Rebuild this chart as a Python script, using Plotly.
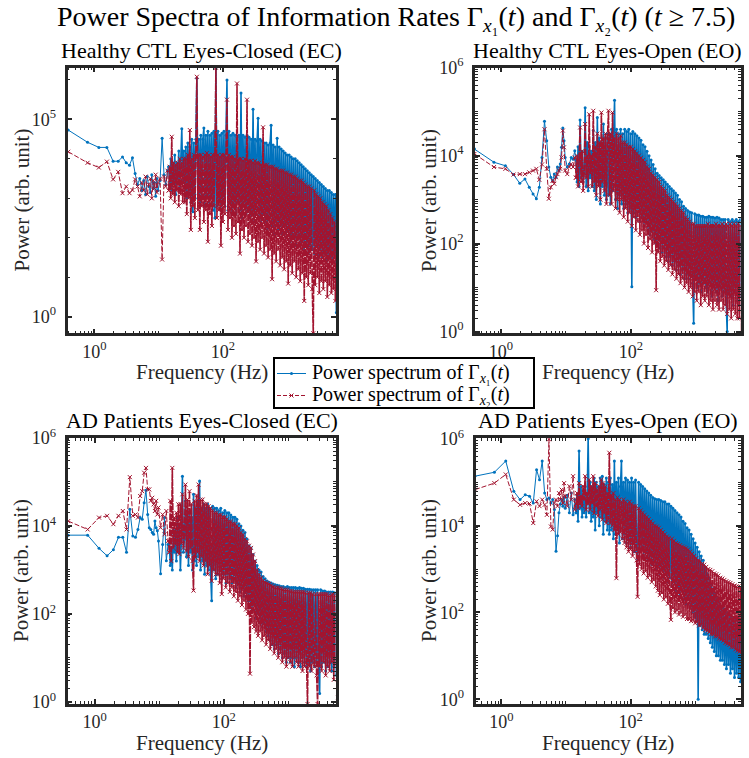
import plotly.graph_objects as go

# ---------------- frequency bins (Hz) ----------------
FREQ_LOW = [
    0.39, 0.78, 1.17, 1.56, 1.95, 2.34, 2.73, 3.12, 3.51, 3.90,
    4.29, 4.68, 5.07, 5.46, 5.85, 6.24, 6.63, 7.02, 7.41, 7.80,
    8.19, 8.58, 8.97, 9.36, 9.75, 10.5, 11.3, 12.1, 12.9, 13.7]
FREQ_HIGH = [
    14.33, 14.86, 15.40, 15.96, 16.55, 17.15, 17.78, 18.43, 19.11, 19.81,
    20.54, 21.29, 22.07, 22.88, 23.71, 24.58, 25.48, 26.42, 27.38, 28.39,
    29.43, 30.51, 31.62, 32.78, 33.98, 35.23, 36.52, 37.86, 39.24, 40.68,
    42.17, 43.71, 45.32, 46.98, 48.70, 50.48, 52.33, 54.25, 56.23, 58.29,
    60.43, 62.64, 64.94, 67.32, 69.78, 72.34, 74.99, 77.74, 80.58, 83.54,
    86.60, 89.77, 93.06, 96.47,
    100.0, 103.7, 107.5, 111.4, 115.5, 119.7, 124.1, 128.6, 133.4, 138.2,
    143.3, 148.6, 154.0, 159.6, 165.5, 171.5, 177.8, 184.3, 191.1, 198.1,
    205.4, 212.9, 220.7, 228.8, 237.1, 245.8, 254.8, 264.2, 273.8, 283.9,
    294.3, 305.1, 316.2, 327.8, 339.8, 352.3, 365.2, 378.6, 392.4, 406.8,
    421.7, 437.1, 453.2, 469.8, 487.0, 504.8, 523.3, 542.5, 562.3, 582.9,
    604.3, 626.4, 649.4, 673.2, 697.8, 723.4, 749.9, 777.4, 805.8, 835.4,
    866.0, 897.7, 930.6, 964.7,
    1000, 1037, 1075, 1114, 1155, 1197, 1241, 1286, 1334, 1382,
    1433, 1486, 1540, 1596, 1655, 1715, 1778, 1843, 1911, 1981,
    2054, 2129, 2207, 2288, 2371, 2458, 2548, 2642, 2738, 2839,
    2943, 3051, 3162, 3278, 3398, 3523, 3652, 3786, 3924, 4068,
    4217, 4371, 4532, 4698, 4870, 5048, 5233, 5425, 5623, 5829]
FREQ = FREQ_LOW + FREQ_HIGH

# ---------------- log10(power) ----------------
CTL_EC_X1 = [
    4.73, 4.42, 4.29, 4.29, 3.94, 3.94, 4.05, 3.90, 3.84, 4.03,
    3.63, 3.35, 3.50, 3.20, 3.45, 3.10, 3.55, 3.30, 3.15, 3.60,
    3.25, 3.40, 3.05, 3.50, 3.20, 3.45, 4.52, 3.60, 3.35, 3.70,
    3.8, 3.3, 4.0, 3.2, 3.9, 3.4, 4.1, 3.1, 3.9, 3.5, 4.2, 3.3, 4.0, 4.76, 3.4, 4.2,
    3.1, 4.3, 3.0, 4.4, 3.2, 4.3, 2.9, 4.5, 2.66, 4.4, 3.1, 4.5, 6.04, 3.0, 4.5, 2.9,
    4.6, 3.0, 4.5, 4.78, 2.8, 4.6, 3.1, 4.7, 2.9, 4.6, 3.0, 4.65, 2.7, 4.7, 2.5, 6.31,
    2.8, 4.7, 3.0, 4.6, 2.7, 4.65, 2.9, 4.7, 2.8, 4.6, 6.0, 2.7, 4.7, 2.9, 4.6, 2.6,
    4.65, 2.8, 4.6, 2.6, 4.55, 2.9, 4.6, 2.7, 5.67, 2.5, 4.6, 2.8, 4.55, 2.6, 4.6, 2.7,
    4.55, 2.5, 4.5, 2.7, 5.26, 2.4, 4.5, 2.6, 4.45, 5.03, 2.5, 4.5, 2.3, 4.45, 2.6, 4.4,
    2.4, 4.4, 2.2, 4.35, 2.5, 4.4, 4.85, 2.3, 4.35, 2.1, 4.3, 2.4, 4.52, 2.2, 4.3, 2.3,
    4.25, 2.1, 4.2, 2.3, 4.15, 2.0, 4.1, 2.2, 4.1, 1.9, 4.05, 2.1, 4.0, 2.0, 4.0, 1.8,
    3.95, 2.0, 3.9, 1.8, 3.85, 1.9, 3.8, 1.7, 3.75, 1.9, 3.7, 1.6, 3.65, 1.8, 3.6, 1.7,
    3.55, 1.6, 3.5, 1.8, 3.45, 1.5, 3.4, 1.7, 3.35, 1.5, 3.3, 1.6, 3.25, 1.4, 3.2, 1.6,
    3.2, 1.5, 3.15, 1.4, 3.1, 1.5, 3.1, 0.1]
CTL_EC_X2 = [
    4.18, 3.90, 3.78, 3.93, 3.48, 3.67, 3.13, 3.30, 3.13, 3.21,
    3.48, 3.30, 3.05, 3.40, 3.20, 3.55, 3.10, 3.35, 3.50, 3.00,
    3.45, 3.25, 3.60, 3.15, 3.40, 3.50, 1.45, 3.55, 3.30, 3.70,
    3.2, 3.8, 3.0, 4.56, 3.1, 3.9, 2.9, 3.85, 3.2, 3.9, 2.8, 4.0, 3.1, 3.9, 2.9, 4.0,
    2.9, 4.0, 2.6, 4.1, 3.0, 4.73, 2.2, 4.0, 2.8, 4.1, 2.5, 4.05, 6.08, 2.7, 4.1, 2.2,
    4.1, 2.8, 4.05, 2.4, 4.1, 2.7, 4.15, 1.9, 4.1, 2.6, 4.05, 2.3, 4.1, 2.8, 4.1, 6.31,
    2.5, 4.1, 2.7, 4.05, 1.8, 4.1, 2.4, 4.1, 2.6, 4.0, 5.5, 2.2, 4.1, 2.5, 4.05, 2.0,
    4.05, 2.3, 4.0, 2.1, 5.91, 2.4, 4.0, 1.6, 4.0, 2.2, 3.95, 2.0, 4.0, 2.3, 5.5, 1.9,
    3.95, 2.1, 3.95, 1.8, 3.9, 2.0, 3.95, 1.4, 3.9, 1.9, 3.9, 1.7, 3.85, 2.0, 4.8, 1.6,
    3.85, 1.8, 3.85, 1.5, 3.8, 1.7, 3.8, 0.95, 3.8, 1.6, 3.75, 1.4, 3.75, 1.7, 3.7, 1.3,
    3.7, 1.5, 3.7, 1.2, 3.65, 1.4, 3.65, 0.84, 3.6, 1.3, 3.6, 1.1, 3.55, 1.4, 3.55, 1.0,
    3.5, 1.2, 3.45, 0.9, 3.45, 1.1, 3.4, 0.4, 3.35, 1.0, 3.3, 0.8, 3.3, 1.1, 3.25, 0.7,
    -0.42, 3.2, 0.8, 3.1, 1.0, 3.05, 0.6, 3.0, 0.9, 2.9, 0.7, 2.85, 0.9, 2.8, 0.5, 2.7,
    0.8, 2.6, 0.6, 2.5, 0.7, 2.4, 0.4, 2.3]

CTL_EO_X1 = [
    4.15, 3.85, 3.77, 3.57, 3.37, 3.47, 3.28, 3.13, 3.02, 3.28,
    3.96, 4.78, 4.34, 3.74, 3.51, 3.43, 3.58, 3.51, 3.74, 3.66,
    3.81, 4.19, 4.63, 4.34, 3.96, 3.74, 3.81, 3.96, 3.92, 4.11,
    3.9, 3.4, 4.2, 3.3, 4.81, 3.5, 4.1, 3.4, 3.6, 5.09, 3.3, 4.3, 3.2, 4.2, 3.5, 4.1,
    3.3, 4.57, 3.2, 4.3, 3.0, 4.87, 3.4, 4.4, 2.9, 4.3, 3.3, 4.72, 3.1, 4.4, 3.0, 4.5,
    3.1, 4.5, 2.9, 4.6, 3.2, 4.4, 5.26, 3.0, 4.6, 2.8, 4.5, 3.1, 4.6, 2.9, 4.5, 2.8,
    4.6, 2.9, 4.55, 2.7, 4.6, 2.8, 4.5, 1.02, 4.55, 2.7, 4.5, 2.6, 4.45, 2.8, 4.4, 2.5,
    4.35, 2.6, 4.25, 2.4, 4.2, 2.5, 4.1, 2.3, 4.0, 2.2, 3.9, 2.3, 3.8, 2.1, 3.7, 2.0,
    3.6, 2.1, 3.55, 1.9, 3.5, 1.8, 3.45, 1.9, 3.4, 1.7, 3.35, 1.6, 3.3, 1.7, 3.25, 1.5,
    3.2, 1.6, 3.15, 1.4, 3.1, 1.5, 3.0, 1.3, 2.95, 1.4, 2.85, 1.2, 2.8, 1.3, 2.75, 1.2,
    2.72, 1.3, 2.7, 1.1, 0.19, 2.68, 1.2, 2.65, 1.0, 2.65, 1.1, 2.62, 0.9, 2.62, 1.1, 2.6,
    1.0, 2.6, 0.9, 2.62, 1.1, 2.6, 0.8, 2.6, 1.0, 2.58, 0.9, 2.6, 0.7, 2.58, 1.0, 2.55,
    0.8, 2.55, 0.9, 2.55, 0.7, 0.0, 2.55, 0.9, 2.5, 0.8, 2.55, 0.6, 2.5, 0.9, 2.55, 0.7,
    2.5, 0.6, 2.55, 0.8, 2.5, 0.5, 2.5, 0.7]
CTL_EO_X2 = [
    4.04, 3.74, 3.70, 3.57, 3.58, 3.58, 3.62, 3.66, 3.70, 3.45,
    3.80, 4.60, 3.70, 3.02, 3.28, 3.43, 3.36, 3.51, 3.58, 3.66,
    3.70, 3.96, 4.57, 4.19, 3.66, 3.58, 3.74, 3.81, 3.74, 3.96,
    3.5, 4.0, 3.3, 3.9, 4.64, 3.4, 4.1, 3.2, 3.6, 4.72, 3.5, 4.0, 3.3, 4.94, 3.6, 4.0,
    3.3, 5.02, 3.4, 4.2, 3.1, 4.5, 3.3, 4.3, 3.0, 4.98, 3.4, 4.4, 3.2, 4.5, 2.9, 4.4,
    5.02, 3.1, 4.5, 2.9, 4.98, 3.2, 4.4, 2.8, 4.5, 3.0, 4.4, 2.7, 4.45, 3.0, 4.3, 2.6,
    4.3, 2.8, 4.25, 2.5, 4.2, 2.7, 4.2, 2.4, 4.15, 2.6, 4.1, 2.3, 4.05, 2.5, 4.0, 2.2,
    3.95, 2.3, 3.9, 2.0, 3.85, 2.2, 3.75, 1.9, 3.7, 2.1, 3.6, 1.8, 3.55, 2.0, 3.5, 0.94,
    3.45, 1.8, 3.4, 1.6, 3.3, 1.7, 3.25, 1.5, 3.2, 1.6, 3.1, 1.4, 3.05, 1.5, 3.0, 1.3,
    2.95, 1.4, 2.9, 1.2, 2.85, 1.3, 2.8, 1.1, 2.75, 1.2, 2.7, 1.0, 2.6, 1.1, 2.55, 0.9,
    2.5, 1.0, 2.45, 0.8, 2.45, 0.9, 2.4, 0.7, 2.4, 0.9, 2.4, 0.6, 2.4, 0.8, 2.4, 0.7,
    2.4, 0.8, 2.45, 0.6, 2.4, 0.7, 2.4, 0.5, 2.4, 0.7, 2.45, 0.6, 2.4, 0.5, 2.4, 0.7,
    2.45, 0.5, 2.4, 0.6, 2.45, 0.4, 2.4, 0.5, 2.45, 0.3, 2.4, 0.5, 2.45, 0.4, 2.4, 0.3,
    2.45, 0.3, 2.4, -0.05, 2.45, 0.2, 2.4, 0.3]

AD_EC_X1 = [
    3.79, 3.79, 3.49, 3.32, 3.46, 3.74, 3.74, 3.40, 4.38, 3.77,
    3.74, 3.92, 4.19, 4.15, 4.53, 4.81, 4.26, 3.96, 3.92, 3.85,
    3.81, 4.11, 3.96, 3.89, 3.66, 2.91, 3.58, 4.19, 3.21, 3.58,
    3.6, 3.1, 3.5, 3.0, 3.9, 3.4, 3.9, 3.2, 4.2, 3.4, 4.0, 3.0, 3.7, 5.13, 3.4, 3.7,
    4.57, 3.3, 4.3, 3.1, 4.34, 3.4, 4.2, 3.0, 4.72, 3.2, 4.4, 3.1, 4.57, 3.3, 5.02, 3.0,
    4.4, 3.2, 4.5, 2.9, 4.4, 3.1, 4.5, 3.0, 4.4, 2.9, 2.3, 4.45, 3.0, 4.4, 2.8, 4.4,
    2.9, 4.35, 3.0, 4.4, 2.8, 4.3, 2.9, 4.35, 2.7, 4.3, 2.9, 4.3, 2.8, 4.25, 2.7, 4.2,
    2.8, 4.2, 2.6, 4.15, 2.7, 4.05, 2.5, 4.0, 2.6, 3.9, 2.4, 3.85, 2.5, 3.7, 2.3, 3.55,
    2.3, 3.5, 2.1, 3.35, 2.2, 3.2, 1.9, 3.1, 2.0, 3.0, 1.8, 2.95, 1.7, 2.85, 1.8, 2.8,
    1.6, 2.75, 1.5, 2.72, 1.4, 2.7, 1.3, 2.68, 1.2, 2.66, 1.3, 2.65, 1.1, 2.64, 1.2, 2.62,
    1.0, 2.62, 1.1, 2.6, 0.9, 2.62, 1.0, 2.6, 0.9, 2.6, 1.0, 2.6, 0.8, 2.6, 1.0, 2.58,
    0.9, 2.6, 0.8, 2.58, 1.0, 2.58, 0.9, 2.56, 0.8, 2.56, 0.9, 2.56, 0.7, 2.55, 0.9, 2.55,
    0.8, 2.55, 0.9, 2.55, 0.7, 0.19, 2.55, 0.8, 2.52, 0.9, 2.52, 0.7, 2.5, 0.8, 2.5, 0.9,
    2.5, 0.7, 2.5, 0.8, 2.48, 0.6, 2.48, 0.8]
AD_EC_X2 = [
    4.11, 3.92, 4.19, 4.23, 4.04, 4.23, 4.34, 3.92, 5.11, 4.23,
    4.26, 4.19, 4.68, 4.79, 5.21, 5.32, 4.83, 4.83, 4.57, 4.64,
    4.49, 4.34, 4.57, 4.26, 4.42, 3.96, 4.26, 3.81, 4.34, 3.66,
    3.4, 4.57, 3.2, 5.32, 3.5, 4.19, 3.58, 4.3, 3.4, 4.49, 3.36, 4.5, 3.6, 4.72, 3.5, 3.81,
    4.94, 3.43, 4.6, 3.3, 4.79, 3.5, 4.5, 3.2, 2.53, 4.57, 3.28, 4.7, 3.4, 4.94, 3.2, 4.6,
    3.3, 4.6, 3.1, 4.5, 3.2, 4.5, 2.9, 4.45, 3.1, 4.4, 2.75, 4.35, 3.0, 4.3, 2.9, 4.3,
    2.9, 4.25, 2.7, 4.25, 2.45, 4.2, 2.8, 4.2, 2.6, 4.15, 2.7, 4.1, 2.5, 4.1, 2.6, 4.05,
    2.4, 4.05, 2.5, 4.0, 2.3, 3.95, 2.4, 3.85, 2.2, 3.8, 2.3, 3.7, 2.1, 3.65, 2.0, 3.55,
    0.64, 3.5, 1.8, 3.35, 1.7, 3.2, 1.6, 3.0, 1.5, 2.9, 1.6, 2.82, 1.4, 2.75, 1.5, 2.72,
    1.3, 2.7, 1.4, 2.68, 1.2, 2.65, 1.3, 2.62, 1.1, 2.6, 1.2, 2.6, 1.0, 2.58, 1.1, 2.58,
    0.9, 2.55, 1.0, 2.55, 0.8, 2.55, 1.0, 2.52, 0.9, 2.52, 0.8, 2.5, 1.0, 2.5, 0.9, 2.5,
    0.8, 2.5, 0.9, 2.5, 0.7, 2.5, 0.8, 2.48, 0.9, -0.05, 2.48, 0.8, 2.48, 0.7, 2.45, 0.9,
    0.8, 2.45, 0.6, -0.05, 2.45, 0.8, 2.45, 0.7, 2.45, 0.9, 2.45, 0.6, 2.45, 0.8, 2.42, 0.7,
    2.42, 0.9, 2.45, 0.5, 2.42, 0.85, 2.42, 0.1]

AD_EO_X1 = [
    5.14, 5.23, 5.49, 4.79, 4.60, 4.71, 4.68, 4.52, 5.29, 5.06,
    5.49, 4.75, 4.60, 4.64, 4.52, 4.60, 4.37, 3.41, 3.77, 4.30,
    4.50, 4.60, 4.45, 4.65, 4.40, 4.70, 4.30, 4.75, 4.25, 4.60,
    4.3, 4.7, 4.1, 5.72, 4.4, 4.9, 4.2, 4.8, 4.3, 4.9, 4.2, 4.6, 6.0, 4.3, 5.0, 4.1,
    4.9, 4.2, 5.1, 3.9, 5.0, 4.3, 4.9, 4.0, 5.1, 4.2, 5.14, 3.8, 4.95, 4.1, 5.1, 3.9,
    5.0, 3.8, 5.1, 3.9, 4.95, 3.7, 5.49, 3.8, 5.0, 3.9, 5.1, 3.6, 4.9, 5.49, 3.7, 5.0,
    3.8, 5.1, 3.6, 5.05, 3.7, 5.0, 3.5, 5.1, 3.6, 5.0, 3.4, 5.05, 3.5, 3.21, 5.0, 3.4,
    4.95, 3.5, 4.9, 3.3, 4.85, 3.4, 4.8, 3.2, 4.75, 3.3, 4.7, 3.1, 4.65, 3.2, 4.62, 3.0,
    4.6, 3.1, 4.6, 2.9, 4.58, 3.0, 4.55, 2.8, 4.55, 2.9, 4.5, 2.7, 4.5, 2.8, 4.45, 2.6,
    4.4, 2.7, 4.35, 2.5, 4.3, 2.6, 4.25, 2.4, 4.2, 2.5, 4.1, 2.3, 4.05, 2.2, 3.95, 2.3,
    3.9, 2.1, 3.8, 2.0, 3.7, 1.9, 3.6, 1.8, 3.5, 0.0, 3.4, 1.7, 3.3, 1.6, 3.2, 1.5,
    3.05, 1.5, 2.9, 1.4, 2.8, 1.3, 2.65, 1.2, 2.55, 1.1, 2.45, 1.0, 2.35, 1.0, 2.25, 0.9,
    2.15, 0.9, 2.1, 0.8, 2.05, 0.7, 2.0, 0.8, 1.95, 0.6, 1.9, 0.7, 1.88, 0.5, 1.85, 0.6,
    1.85, 0.5, 1.82, 0.4, 1.8, 0.5, 1.8, -0.1]
AD_EO_X2 = [
    4.83, 4.98, 5.18, 4.60, 4.48, 4.52, 4.51, 4.06, 4.56, 4.45,
    4.60, 4.48, 4.25, 5.99, 3.98, 3.91, 4.52, 4.60, 4.45, 4.75,
    4.60, 4.83, 4.52, 4.98, 4.68, 4.45, 4.91, 4.60, 5.14, 4.37,
    4.5, 4.75, 4.4, 4.98, 4.5, 4.68, 4.45, 4.91, 4.6, 5.14, 4.37, 4.75, 4.5, 5.06, 4.37, 4.91,
    4.52, 5.14, 4.29, 4.98, 4.45, 4.83, 4.22, 4.91, 4.37, 5.06, 4.14, 4.98, 4.29, 4.9, 4.06, 4.75,
    4.14, 5.68, 4.06, 4.7, 4.0, 4.75, 3.9, 4.6, 2.79, 4.65, 3.8, 4.6, 3.85, 4.55, 3.7, 4.6,
    3.6, 4.55, 3.5, 4.5, 3.4, 4.55, 3.45, 4.5, 3.3, 4.45, 3.4, 4.45, 3.2, 2.36, 4.4, 3.1,
    4.35, 3.0, 4.3, 2.9, 4.25, 2.95, 4.2, 2.8, 4.15, 2.85, 4.1, 2.7, 4.05, 2.75, 4.0, 2.6,
    3.98, 2.5, 3.95, 2.4, 3.9, 2.45, 3.85, 2.3, 3.8, 2.35, 3.75, 2.2, 3.72, 2.25, 1.83, 3.7,
    2.1, 3.65, 2.0, 3.6, 2.05, 3.58, 1.95, 3.55, 2.0, 3.52, 1.9, 3.5, 1.95, 3.48, 1.85, 3.45,
    1.85, 3.4, 1.8, 3.35, 1.82, 3.3, 1.75, 3.25, 1.78, 3.2, 1.7, 3.18, 1.72, 3.12, 1.65, 3.1,
    1.6, 3.05, 1.58, 3.0, 1.55, 2.98, 1.5, 2.95, 1.5, 2.9, 1.45, 2.88, 1.45, 2.85, 1.4, 2.8,
    1.38, 2.78, 1.35, 2.75, 1.3, 2.72, 1.28, 2.7, 1.25, 2.68, 1.2, 2.65, 1.2, 2.62, 1.15, 2.6,
    1.12, 2.6, 1.1, 2.58, 1.08, 2.56, 1.05, 2.55]

PANEL_TITLES = ["Healthy CTL Eyes-Closed (EC)", "Healthy CTL Eyes-Open (EO)",
                "AD Patients Eyes-Closed (EC)", "AD Patients Eyes-Open (EO)"]
SERIES = [(CTL_EC_X1, CTL_EC_X2), (CTL_EO_X1, CTL_EO_X2),
          (AD_EC_X1, AD_EC_X2), (AD_EO_X1, AD_EO_X2)]
for a, b in SERIES:
    assert len(a) == len(FREQ) and len(b) == len(FREQ), (len(a), len(b), len(FREQ))

LEGEND_NAMES = ["Power spectrum of \u0393<sub><i>x</i>\u2081</sub>(<i>t</i>)",
                "Power spectrum of \u0393<sub><i>x</i>\u2082</sub>(<i>t</i>)"]
MAIN_TITLE = ("Power Spectra of Information Rates \u0393<sub><i>x</i>\u2081</sub>(<i>t</i>)"
              " and \u0393<sub><i>x</i>\u2082</sub>(<i>t</i>) (<i>t</i> \u2265 7.5)")

BLUE = "#0072BD"
RED = "#A2142F"
AXC = "#262626"
FONT = "Liberation Serif"
W, H = 749, 758
NLOW = len(FREQ_LOW)

# panel boxes in pixels: (left, right, top, bottom)
BOXES = [(67.5, 336.0, 67.7, 333.3), (475.0, 740.5, 67.7, 333.3),
         (67.5, 335.5, 438.0, 704.0), (475.5, 741.0, 438.0, 704.0)]
XRANGES = [[-0.42, 3.76], [-0.40, 3.69], [-0.42, 3.73], [-0.40, 3.71]]
YRANGES = [[-0.42, 6.31], [-0.04, 6.0], [-0.05, 6.0], [-0.11, 6.02]]

fig = go.Figure()
PARTS = [(slice(0, NLOW + 1), 1.0, "5px,2px"), (slice(NLOW, None), 1.6, "7px,1px")]
for i, (s1, s2) in enumerate(SERIES):
    n = "" if i == 0 else str(i + 1)
    # sparse low-frequency part (thin lines) and dense part (slightly wider so
    # the densely packed spectrum reads as a filled band, as in the original)
    for sl, lw, rdash in PARTS:
        fig.add_trace(go.Scatter(
            x=FREQ[sl], y=[10 ** v for v in s1[sl]], mode="lines+markers",
            name=LEGEND_NAMES[0], showlegend=False,
            line=dict(color=BLUE, width=lw, simplify=False),
            marker=dict(symbol="circle", size=3, color=BLUE),
            xaxis="x" + n, yaxis="y" + n))
    for sl, lw, rdash in PARTS:
        fig.add_trace(go.Scatter(
            x=FREQ[sl], y=[10 ** v for v in s2[sl]], mode="lines+markers",
            name=LEGEND_NAMES[1], showlegend=False,
            line=dict(color=RED, width=lw, dash=rdash, simplify=False),
            marker=dict(symbol="x-thin", size=4, color=RED,
                        line=dict(color=RED, width=1)),
            xaxis="x" + n, yaxis="y" + n))

sup = lambda k: "10<sup>%d</sup>" % k
x_minor = [m * 10 ** k for k in range(-1, 4) for m in range(1, 10)
           if not (m == 1 and k in (0, 2))]
y_minor_full = [m * 10 ** k for k in range(-1, 7) for m in range(2, 10)] + [1e1, 1e3, 1e5]

layout = dict(width=W, height=H,
              margin=dict(l=0, r=0, t=0, b=0, pad=0, autoexpand=False),
              paper_bgcolor="white", plot_bgcolor="white", showlegend=False,
              font=dict(family=FONT, color=AXC, size=18))
annotations = []
shapes = []
for i in range(4):
    n = "" if i == 0 else str(i + 1)
    x0, x1, y0, y1 = BOXES[i]
    common = dict(showline=True, linewidth=2.5, linecolor=AXC, mirror="ticks",
                  ticks="inside", ticklen=5, tickwidth=1.5, tickcolor=AXC,
                  showgrid=False, zeroline=False, type="log", automargin=False,
                  tickfont=dict(family=FONT, size=18, color=AXC))
    xa = dict(common, domain=[x0 / W, x1 / W], range=XRANGES[i], anchor="y" + n,
              tickmode="array", tickvals=[1, 100], ticktext=[sup(0), sup(2)],
              minor=dict(ticks="inside", ticklen=3, tickwidth=1.2,
                         tickcolor=AXC, tickmode="array", tickvals=x_minor))
    if i == 0:
        yv, yt, ym = [1, 1e5], [sup(0), sup(5)], [1e1, 1e2, 1e3, 1e4, 1e6]
    else:
        yv, yt, ym = [1, 1e2, 1e4, 1e6], [sup(0), sup(2), sup(4), sup(6)], y_minor_full
    ya = dict(common, domain=[1 - y1 / H, 1 - y0 / H], range=YRANGES[i],
              anchor="x" + n, tickmode="array", tickvals=yv, ticktext=yt,
              ticklabelstandoff=5,
              minor=dict(ticks="inside", ticklen=3, tickwidth=1.2,
                         tickcolor=AXC, tickmode="array", tickvals=ym))
    layout["xaxis" + n] = xa
    layout["yaxis" + n] = ya

    cx = (x0 + x1) / 2 / W
    cy = 1 - (y0 + y1) / 2 / H
    annotations.append(dict(text=PANEL_TITLES[i], x=cx, y=1 - (y0 - 17.5) / H,
                            xref="paper", yref="paper", showarrow=False,
                            xanchor="center", yanchor="middle",
                            font=dict(family=FONT, size=22, color="black")))
    annotations.append(dict(text="Frequency (Hz)", x=cx, y=1 - (y1 + 38.5) / H,
                            xref="paper", yref="paper", showarrow=False,
                            xanchor="center", yanchor="middle",
                            font=dict(family=FONT, size=21, color=AXC)))
    annotations.append(dict(text="Power (arb. unit)", x=(x0 - 46.5) / W,
                            y=cy, xref="paper", yref="paper", showarrow=False,
                            textangle=-90, xanchor="center", yanchor="middle",
                            font=dict(family=FONT, size=21, color=AXC)))

annotations.append(dict(text=MAIN_TITLE, x=396 / W, y=1 - 18 / H,
                        xref="paper", yref="paper", showarrow=False,
                        xanchor="center", yanchor="middle",
                        font=dict(family=FONT, size=28, color="black")))

# legend key between the panels
LX0, LX1, LY0, LY1 = 274, 534, 358, 408
ROWS = [373.5, 395.5]
shapes.append(dict(type="rect", xref="paper", yref="paper", x0=LX0 / W, x1=LX1 / W,
                   y0=1 - LY1 / H, y1=1 - LY0 / H, line=dict(color="black", width=2),
                   fillcolor="white", layer="above"))
for k, (col, dash) in enumerate([(BLUE, "solid"), (RED, "4px,2px")]):
    yy = 1 - ROWS[k] / H
    shapes.append(dict(type="line", xref="paper", yref="paper", x0=277 / W, x1=306 / W,
                       y0=yy, y1=yy, line=dict(color=col, width=1, dash=dash),
                       layer="above"))
    annotations.append(dict(text=LEGEND_NAMES[k], x=310 / W, y=yy, xref="paper",
                            yref="paper", showarrow=False, xanchor="left",
                            yanchor="middle",
                            font=dict(family=FONT, size=20, color="black")))
shapes.append(dict(type="circle", xref="paper", yref="paper",
                   x0=290 / W, x1=293 / W, y0=1 - (ROWS[0] + 1.5) / H,
                   y1=1 - (ROWS[0] - 1.5) / H, fillcolor=BLUE,
                   line=dict(color=BLUE, width=0), layer="above"))
for sgn in (1, -1):
    shapes.append(dict(type="line", xref="paper", yref="paper",
                       x0=289.5 / W, x1=293.5 / W,
                       y0=1 - (ROWS[1] - 2 * sgn) / H, y1=1 - (ROWS[1] + 2 * sgn) / H,
                       line=dict(color=RED, width=1), layer="above"))

layout["annotations"] = annotations
layout["shapes"] = shapes
fig.update_layout(**layout)
fig.write_html("out.html",
               post_script="document.body.style.margin='0';"
                           "document.documentElement.style.overflow='hidden';")
